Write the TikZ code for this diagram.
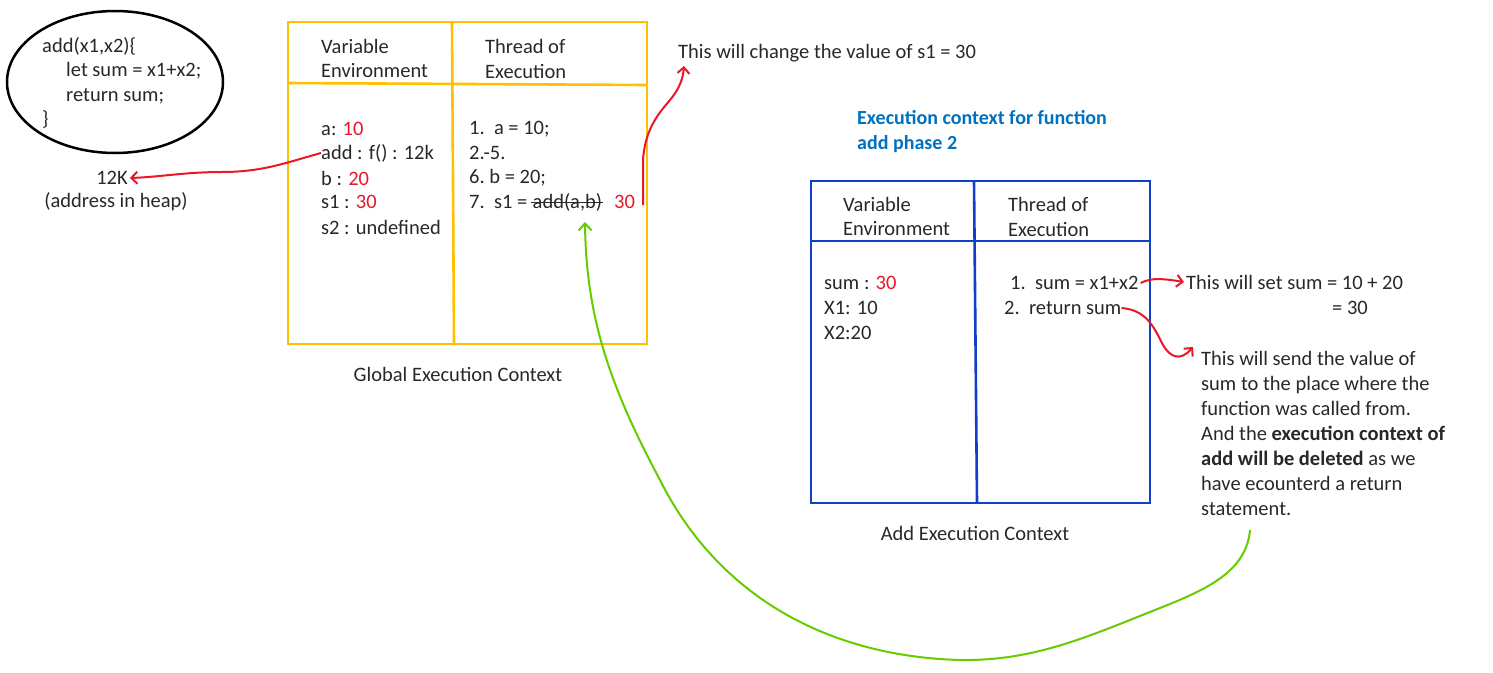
\documentclass[tikz,border=0pt]{standalone}
\usepackage{fontspec}
\setmainfont{Carlito}
\usetikzlibrary{arrows.meta}
\definecolor{gold}{RGB}{255,192,0}
\definecolor{bbox}{RGB}{16,64,200}
\definecolor{hblue}{RGB}{0,112,192}
\definecolor{rred}{RGB}{232,24,40}
\definecolor{ggreen}{RGB}{102,204,0}
\definecolor{ink}{RGB}{40,40,40}
\tikzset{
  txt/.style={anchor=west, inner sep=0pt, font=\fontsize{20.5}{25}\selectfont, text=ink},
  ctxt/.style={inner sep=0pt, font=\fontsize{20.5}{25}\selectfont, text=ink},
  goldbox/.style={draw=gold, line width=2.6pt},
  bluebox/.style={draw=bbox, line width=2.6pt},
  redarrow/.style={draw=rred, line width=2pt, -{Straight Barb[length=6pt,width=12pt,line width=2pt]}},
  greenarrow/.style={draw=ggreen, line width=2pt, -{Straight Barb[length=7pt,width=13pt,line width=2pt]}},
  headtxt/.style={txt, font=\bfseries\fontsize{20}{25}\selectfont, text=hblue},
}
\newcommand{\rv}[1]{\textcolor{rred}{#1}}
\begin{document}
\begin{tikzpicture}[x=1pt,y=-1pt]
\useasboundingbox (0,0) rectangle (1493,672);
% ellipse with function
\draw[line width=2.5pt, black] (115,82) ellipse [x radius=108, y radius=71];
\node[txt] (f1) at (42,46) {add(x1,x2)\{};
\node[txt] (f2) at (66,71) {let sum = x1+x2;};
\node[txt] (f3) at (66,96) {return sum;};
\node[txt] (f4) at (42,119) {\}};
\node[ctxt] (k12) at (112,178) {12K};
\node[ctxt] (heap) at (116,202) {(address in heap)};
% global box
\draw[goldbox] (288,22) rectangle (647,344);
\draw[goldbox] (452,22) -- (454,344);
\draw[goldbox] (288,83) -- (647,85);
\node[txt] (gv1) at (321,46) {Variable};
\node[txt] (gv2) at (321,71) {Environment};
\node[txt] (gt1) at (485,46) {Thread of};
\node[txt] (gt2) at (485,71) {Execution};
\node[txt] (ga) at (321,129) {a: \rv{10}};
\node[txt] (gadd) at (321,153) {add : f() : 12k};
\node[txt] (gb) at (321,178) {b : \rv{20}};
\node[txt] (gs1) at (321,202) {s1 : \rv{30}};
\node[txt] (gs2) at (321,227) {s2 : undefined};
\node[txt] (l1) at (469,129) {1.\ \ a = 10;};
\node[txt] (l2) at (469,153) {2.-5.};
\node[txt] (l6) at (469,178) {6.\ b = 20;};
\node[txt] (l7) at (469,202) {7.\ \ s1 =};
\node[txt] (strk) at ([xshift=5pt]l7.east) {add(a,b)};
\draw[ink, line width=1pt] ([xshift=-1pt]strk.west) -- ([xshift=1pt]strk.east);
\node[txt] (thirty) at (614,202) {\rv{30}};
\node[ctxt] (gec) at (458,374) {Global Execution Context};
% top note
\node[txt] (chg) at (678,53) {This will change the value of s1 = 30};
% blue heading
\node[headtxt] (h1) at (857,118) {Execution context for function};
\node[headtxt] (h2) at (857,144) {add phase 2};
% add box
\draw[bluebox] (811,181) rectangle (1150,503);
\draw[bluebox] (974,181) -- (977,503);
\draw[bluebox] (811,241) -- (1150,241);
\node[txt] (av1) at (843,204) {Variable};
\node[txt] (av2) at (843,229) {Environment};
\node[txt] (at1) at (1008,204) {Thread of};
\node[txt] (at2) at (1008,229) {Execution};
\node[txt] (asum) at (824,283) {sum : \rv{30}};
\node[txt] (ax1) at (824,308) {X1: 10};
\node[txt] (ax2) at (824,333) {X2:20};
\node[txt] (s1l) at (1010,283) {1.\ \ sum = x1+x2};
\node[txt] (s2l) at (1004,308) {2.\ \ return sum};
\node[ctxt] (aec) at (975,533) {Add Execution Context};
% right notes
\node[txt] (set1) at (1186,282) {This will set sum = 10 + 20};
\node[txt] (set2) at (1332,308) {= 30};
\node[txt, align=left, anchor=north west] (send) at (1201,351) {This will send the value of\\sum to the place where the\\function was called from.\\And the \textbf{execution context of}\\\textbf{add will be deleted} as we\\have ecounterd a return\\statement.};
% connectors
\coordinate (cA) at (643,205);
\coordinate (cB) at (684,66);
\draw[redarrow] (gadd.west) .. controls (285,163) and (262,172) .. (222,172) .. controls (185,172) and (160,177) .. ([xshift=2pt]k12.east);
\draw[redarrow] (cA) -- (643,160) .. controls (645,128) and (660,112) .. (670,100) .. controls (680,88) and (683,78) .. (cB);
\draw[redarrow] ([xshift=2pt]s1l.east) .. controls (1152,277) and (1165,279) .. ([xshift=-2pt]set1.west);
\draw[redarrow] (s2l.east) .. controls (1148,310) and (1155,330) .. (1163,345) .. controls (1170,357) and (1180,362) .. ([xshift=-8pt,yshift=4pt]send.north west);
\coordinate (gS) at (1250,530);
\coordinate (gE) at (585,222);
\draw[greenarrow] (gS) .. controls (1246,575) and (1200,592) .. (1150,612) .. controls (1080,640) and (1030,661) .. (960,660) .. controls (820,656) and (715,590) .. (660,480) .. controls (612,390) and (586,320) .. (gE);
\end{tikzpicture}
\end{document}
